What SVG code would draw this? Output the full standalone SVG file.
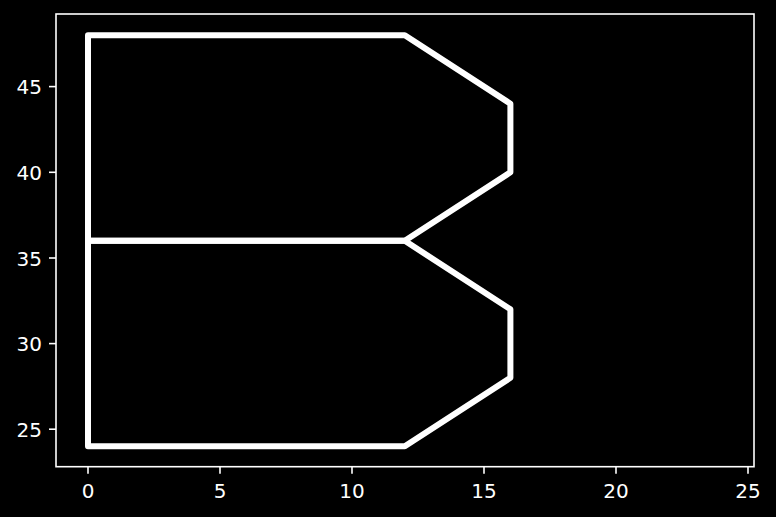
<svg xmlns="http://www.w3.org/2000/svg" width="776" height="517" viewBox="0 0 776 517">
<style>
.shape{fill:none;stroke:#fff;stroke-width:6;stroke-linejoin:round;stroke-linecap:square}
.frame{fill:none;stroke:#fff;stroke-width:1.6}
.tick{stroke:#fff;stroke-width:1.6}
text{fill:#fff;font-family:"DejaVu Sans",sans-serif;font-size:20px}
.yl{text-anchor:end}
.xl{text-anchor:middle}
</style>
<rect width="776" height="517" fill="#000"/>
<g id="connectors">
<path id="upper" class="shape" d="M88,240.8 L88,35.2 L404.8,35.2 L510.4,103.7 L510.4,172.3 L404.8,240.8 Z"/>
<path id="lower" class="shape" d="M88,446.3 L88,240.8 L404.8,240.8 L510.4,309.3 L510.4,377.8 L404.8,446.3 Z"/>
</g>
<g id="axes">
<rect class="frame" x="56" y="14" width="698" height="452.7"/>
<g class="tick">
<line x1="88" y1="466.7" x2="88" y2="473.7"/>
<line x1="220" y1="466.7" x2="220" y2="473.7"/>
<line x1="352" y1="466.7" x2="352" y2="473.7"/>
<line x1="484" y1="466.7" x2="484" y2="473.7"/>
<line x1="616" y1="466.7" x2="616" y2="473.7"/>
<line x1="748" y1="466.7" x2="748" y2="473.7"/>
<line x1="49" y1="429.2" x2="56" y2="429.2"/>
<line x1="49" y1="343.6" x2="56" y2="343.6"/>
<line x1="49" y1="258" x2="56" y2="258"/>
<line x1="49" y1="172.3" x2="56" y2="172.3"/>
<line x1="49" y1="86.6" x2="56" y2="86.6"/>
</g>
<text class="xl" x="88" y="498">0</text>
<text class="xl" x="220" y="498">5</text>
<text class="xl" x="352" y="498">10</text>
<text class="xl" x="484" y="498">15</text>
<text class="xl" x="616" y="498">20</text>
<text class="xl" x="748" y="498">25</text>
<text class="yl" x="42" y="436.7">25</text>
<text class="yl" x="42" y="351.1">30</text>
<text class="yl" x="42" y="265.5">35</text>
<text class="yl" x="42" y="179.8">40</text>
<text class="yl" x="42" y="94.1">45</text>
</g>
</svg>
